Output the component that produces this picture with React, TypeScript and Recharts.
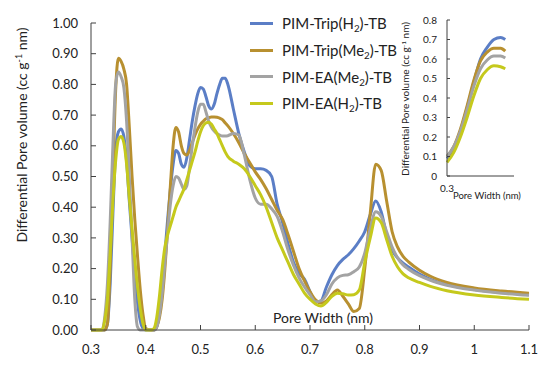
import React from 'react';
import { LineChart, Line, XAxis, YAxis, Legend } from 'recharts';

const FONT = 'Lato, "Open Sans", sans-serif';

// main chart: pore width (nm) and differential pore volume per polymer
const poreWidth = [
  0.30, 0.32, 0.325, 0.33, 0.335, 0.34, 0.345, 0.35, 0.355, 0.36, 0.365, 0.37, 0.375, 0.38, 0.385, 0.39, 0.395, 0.40,
  0.41, 0.415, 0.42, 0.425, 0.43, 0.435, 0.44, 0.445, 0.45, 0.455, 0.46, 0.465, 0.47, 0.475, 0.48, 0.485, 0.49, 0.495,
  0.50, 0.505, 0.51, 0.515, 0.52, 0.525, 0.53, 0.535, 0.54, 0.545, 0.55, 0.56, 0.57, 0.58, 0.59, 0.60, 0.61, 0.62,
  0.63, 0.64, 0.65, 0.66, 0.67, 0.68, 0.69, 0.70, 0.71, 0.72, 0.73, 0.74, 0.75, 0.76, 0.77, 0.78, 0.79, 0.80, 0.81,
  0.82, 0.83, 0.84, 0.85, 0.86, 0.87, 0.88, 0.90, 0.92, 0.95, 1.00, 1.05, 1.10,
];

const tripH2 = [
  0, 0, 0, 0.02, 0.15, 0.38, 0.58, 0.645, 0.655, 0.63, 0.55, 0.42, 0.30, 0.19, 0.09, 0.03, 0.005, 0,
  0, 0, 0.01, 0.06, 0.14, 0.25, 0.36, 0.46, 0.54, 0.585, 0.575, 0.54, 0.53, 0.56, 0.62, 0.68, 0.73, 0.77,
  0.79, 0.785, 0.76, 0.73, 0.72, 0.735, 0.77, 0.80, 0.82, 0.82, 0.80, 0.72, 0.64, 0.58, 0.535, 0.525, 0.525, 0.52,
  0.50, 0.41, 0.35, 0.28, 0.22, 0.185, 0.165, 0.125, 0.092, 0.095, 0.14, 0.18, 0.21, 0.23, 0.245, 0.265, 0.29, 0.32, 0.375,
  0.42, 0.385, 0.31, 0.26, 0.235, 0.218, 0.205, 0.182, 0.165, 0.148, 0.132, 0.122, 0.115,
];

const tripMe2 = [
  0, 0, 0, 0.02, 0.2, 0.5, 0.78, 0.885, 0.875, 0.85, 0.80, 0.66, 0.5, 0.36, 0.24, 0.13, 0.05, 0.005,
  0, 0, 0.01, 0.04, 0.1, 0.2, 0.33, 0.47, 0.6, 0.66, 0.645, 0.6, 0.575, 0.57, 0.585, 0.61, 0.635, 0.655,
  0.67, 0.68, 0.688, 0.692, 0.694, 0.694, 0.693, 0.69, 0.685, 0.675, 0.665, 0.64, 0.61, 0.575, 0.545, 0.515, 0.49, 0.46,
  0.425, 0.39, 0.36, 0.31, 0.255, 0.2, 0.16, 0.125, 0.098, 0.088, 0.095, 0.115, 0.13, 0.11, 0.085, 0.06, 0.07, 0.2, 0.38,
  0.54, 0.52, 0.42, 0.32, 0.27, 0.24, 0.222, 0.195, 0.175, 0.155, 0.137, 0.127, 0.12,
];

const eaMe2 = [
  0, 0, 0.04, 0.15, 0.35, 0.6, 0.8, 0.84, 0.825, 0.79, 0.68, 0.5, 0.3, 0.1, 0.01, 0, 0, 0,
  0, 0, 0.01, 0.05, 0.12, 0.22, 0.32, 0.41, 0.47, 0.5, 0.495, 0.475, 0.458, 0.47, 0.53, 0.6, 0.66, 0.71,
  0.735, 0.735, 0.71, 0.68, 0.66, 0.648, 0.64, 0.635, 0.632, 0.632, 0.633, 0.64, 0.635, 0.57, 0.49, 0.43, 0.41, 0.41,
  0.395, 0.37, 0.32, 0.26, 0.21, 0.17, 0.14, 0.115, 0.092, 0.095, 0.115, 0.15, 0.17, 0.178, 0.18, 0.19, 0.205, 0.25, 0.33,
  0.385, 0.37, 0.32, 0.27, 0.235, 0.212, 0.198, 0.177, 0.162, 0.146, 0.13, 0.12, 0.113,
];

const eaH2 = [
  0, 0, 0.03, 0.1, 0.25, 0.42, 0.55, 0.62, 0.63, 0.61, 0.54, 0.43, 0.33, 0.23, 0.14, 0.07, 0.02, 0,
  0, 0.005, 0.04, 0.11, 0.2, 0.27, 0.31, 0.34, 0.37, 0.4, 0.42, 0.44, 0.46, 0.49, 0.52, 0.55, 0.58, 0.615,
  0.645, 0.665, 0.675, 0.677, 0.67, 0.655, 0.64, 0.62, 0.6, 0.58, 0.565, 0.55, 0.54, 0.525, 0.5, 0.47, 0.44, 0.4,
  0.35, 0.3, 0.26, 0.22, 0.18, 0.15, 0.12, 0.1, 0.085, 0.078, 0.09, 0.11, 0.12, 0.118, 0.114, 0.115, 0.13, 0.22, 0.3,
  0.365, 0.35, 0.295, 0.24, 0.205, 0.183, 0.17, 0.155, 0.142, 0.128, 0.114, 0.106, 0.1,
];

// inset chart
const insetWidth = [0.30, 0.31, 0.32, 0.33, 0.34, 0.35, 0.36, 0.37, 0.38, 0.387];
const insetTripH2 = [0.09, 0.14, 0.23, 0.35, 0.48, 0.6, 0.66, 0.70, 0.71, 0.70];
const insetTripMe2 = [0.1, 0.15, 0.24, 0.36, 0.49, 0.59, 0.635, 0.655, 0.655, 0.64];
const insetEaMe2 = [0.1, 0.15, 0.23, 0.34, 0.46, 0.55, 0.595, 0.615, 0.615, 0.605];
const insetEaH2 = [0.07, 0.12, 0.2, 0.3, 0.41, 0.5, 0.545, 0.565, 0.56, 0.55];

const xTicks = [0.3, 0.4, 0.5, 0.6, 0.7, 0.8, 0.9, 1.0, 1.1];
const yTicks = [0, 0.1, 0.2, 0.3, 0.4, 0.5, 0.6, 0.7, 0.8, 0.9, 1.0];
const insetYTicks = [0, 0.1, 0.2, 0.3, 0.4, 0.5, 0.6, 0.7, 0.8];

const series = [
  { key: 'tripH2', name: 'PIM-Trip(H2)-TB', color: '#5b7ec6' },
  { key: 'tripMe2', name: 'PIM-Trip(Me2)-TB', color: '#b89030' },
  { key: 'eaMe2', name: 'PIM-EA(Me2)-TB', color: '#a3a3a3' },
  { key: 'eaH2', name: 'PIM-EA(H2)-TB', color: '#c5c91c' },
];

const mainData = poreWidth.map((x, i) => ({
  x, tripH2: tripH2[i], tripMe2: tripMe2[i], eaMe2: eaMe2[i], eaH2: eaH2[i],
}));

const insetData = insetWidth.map((x, i) => ({
  x, tripH2: insetTripH2[i], tripMe2: insetTripMe2[i], eaMe2: insetEaMe2[i], eaH2: insetEaH2[i],
}));

// subscript the digits in the polymer names
const withSub = (name: string) =>
  name.split(/(\d)/).map((part, i) =>
    /\d/.test(part)
      ? <sub key={i} style={{ fontSize: '0.65em', verticalAlign: '-0.3em', lineHeight: 0 }}>{part}</sub>
      : <span key={i}>{part}</span>
  );

const LegendBox = () => (
  <div style={{ fontFamily: FONT, fontSize: 15, color: '#222' }}>
    {series.map(s => (
      <div key={s.key} style={{ display: 'flex', alignItems: 'center', height: 26.7 }}>
        <span style={{ display: 'inline-block', width: 23, height: 3, background: s.color, marginRight: 9 }} />
        <span>{withSub(s.name)}</span>
      </div>
    ))}
  </div>
);

const yLabel = (x: number, y: number, size: number) => (
  <text transform={`translate(${x},${y}) rotate(-90)`} textAnchor="middle" fontFamily={FONT} fontSize={size} fill="#222">
    Differential Pore volume (cc g<tspan baselineShift="super" fontSize={size * 0.65}>-1</tspan> nm)
  </text>
);

const fmtX = (v: number) => String(+v.toFixed(1));

export default function App() {
  return (
    <div style={{ position: 'absolute', left: 0, top: 0, width: 550, height: 365, background: '#fff' }}>
      <LineChart width={550} height={365} data={mainData} margin={{ top: 23, right: 21, bottom: 5, left: 41 }}>
        <XAxis
          dataKey="x"
          type="number"
          domain={[0.3, 1.1]}
          ticks={xTicks}
          tickFormatter={fmtX}
          height={30}
          tickSize={-5}
          tickMargin={20}
          stroke="#404040"
          tick={{ fill: '#222', fontSize: 13, fontFamily: FONT }}
          label={{
            content: () => (
              <text x={273} y={323} fontFamily={FONT} fontSize={14} fill="#222">Pore Width (nm)</text>
            ),
          }}
        />
        <YAxis
          type="number"
          domain={[0, 1]}
          ticks={yTicks}
          tickFormatter={(v: number) => v.toFixed(2)}
          width={50}
          tickSize={-5}
          tickMargin={18}
          stroke="#404040"
          tick={{ fill: '#222', fontSize: 13, fontFamily: FONT }}
          label={{ content: () => yLabel(27, 135, 14) }}
        />
        {series.map(s => (
          <Line
            key={s.key}
            type="monotone"
            dataKey={s.key}
            stroke={s.color}
            strokeWidth={3}
            dot={false}
            isAnimationActive={false}
          />
        ))}
        <Legend
          verticalAlign="middle"
          align="center"
          content={<LegendBox />}
          wrapperStyle={{ left: 250, top: 10, width: 'auto' }}
        />
      </LineChart>

      <div style={{ position: 'absolute', left: 390, top: 0 }}>
        <LineChart width={160} height={210} data={insetData} margin={{ top: 20, right: 36, bottom: 14, left: 17 }}>
          <XAxis
            dataKey="x"
            type="number"
            domain={[0.3, 0.4]}
            ticks={[0.3]}
            tickFormatter={fmtX}
            height={20}
            tickLine={false}
            tickSize={0}
            tickMargin={9}
            stroke="#404040"
            tick={{ fill: '#222', fontSize: 10, fontFamily: FONT }}
            label={{
              content: () => (
                <text x={63} y={199} fontFamily={FONT} fontSize={9.5} fill="#222">Pore Width (nm)</text>
              ),
            }}
          />
          <YAxis
            type="number"
            domain={[0, 0.8]}
            ticks={insetYTicks}
            tickFormatter={(v: number) => String(+v.toFixed(1))}
            width={40}
            tickSize={-3}
            tickMargin={13}
            stroke="#404040"
            tick={{ fill: '#222', fontSize: 10, fontFamily: FONT }}
            label={{ content: () => yLabel(19, 99, 10) }}
          />
          {series.map(s => (
            <Line
              key={s.key}
              type="monotone"
              dataKey={s.key}
              stroke={s.color}
              strokeWidth={3}
              dot={false}
              isAnimationActive={false}
            />
          ))}
        </LineChart>
      </div>
    </div>
  );
}
